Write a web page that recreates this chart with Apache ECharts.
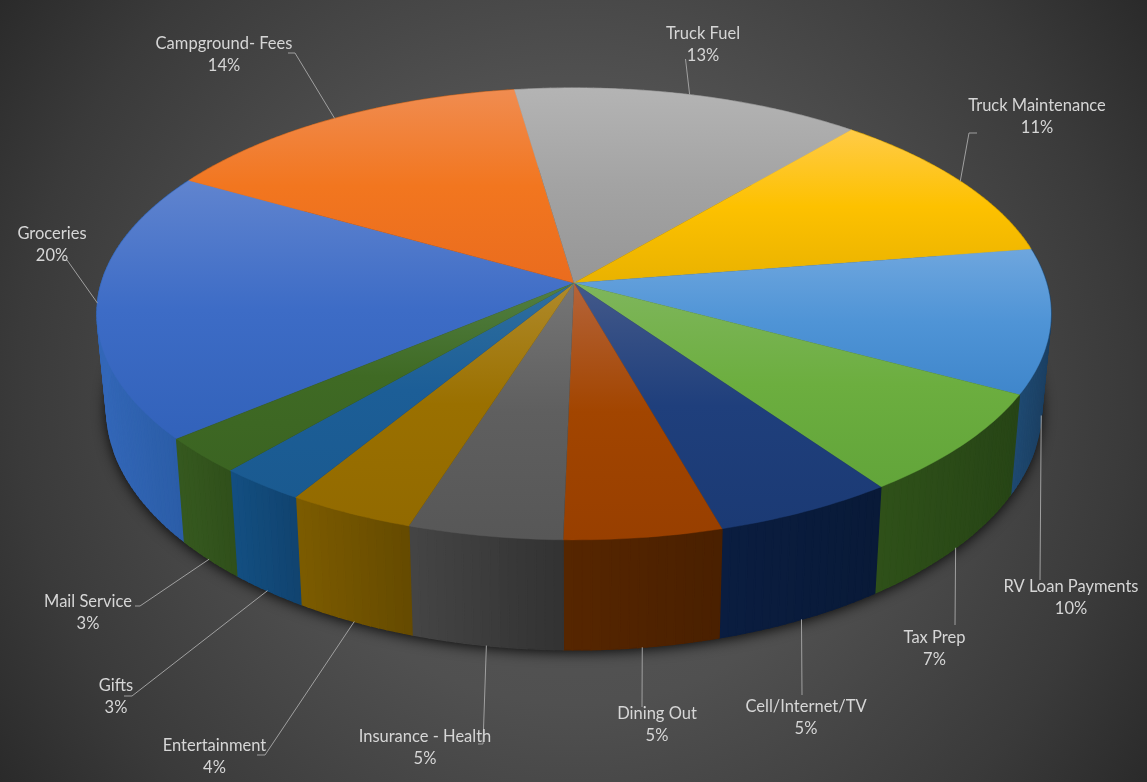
<!DOCTYPE html>
<html><head><meta charset="utf-8">
<style>html,body{margin:0;padding:0;background:#333}#c{width:1147px;height:782px}</style>
<script src="https://cdn.jsdelivr.net/npm/echarts@6/dist/echarts.min.js"></script>
</head><body><div id="c"></div>
<script>
// ---- data
const categories = ['Groceries','Campground- Fees','Truck Fuel','Truck Maintenance','RV Loan Payments','Tax Prep','Cell/Internet/TV','Dining Out','Insurance - Health','Entertainment','Gifts','Mail Service'];
const values = [19.3,14.5,13.5,11.3,10.3,7.4,5.4,4.7,4.6,3.8,2.6,2.6];
const percentLabels = ['20%','14%','13%','11%','10%','7%','5%','5%','5%','4%','3%','3%'];
// ---- styles
const topLight = ['#6084cf','#f08c50','#b4b4b4','#ffcb47','#6ea6de','#7fb65c','#43598a','#b5643a','#767676','#b08a2a','#2f6f9f','#527f42'];
const topMid   = ['#3d6cc6','#f2761f','#a3a3a3','#fdc100','#4f94d6','#6cae3f','#1f3f7c','#a24500','#5f5f5f','#9a7000','#1c5e97','#3f6a24'];
const topDark  = ['#3262ba','#ea6c1e','#969696','#e9b200','#3f86cb','#62a53a','#1b3a74','#983f00','#575757','#926a00','#1a5a90','#3b6422'];
const wallA    = ['#3367b8','#a85a20','#777777','#b08600','#1f4a72','#2f5119','#0a1d40','#572600','#454545','#7d5c00','#134f82','#36591f'];
const wallB    = ['#2a5ca5','#a85a20','#777777','#b08600','#1b3f62','#274516','#091a38','#4a2000','#333333','#664b00','#114470','#30501b'];
const textColor = '#d6d6d6', leaderColor = '#a0a0a0';
// ---- layout: label centres and leader elbows (anchor on the rim comes from the data)
const labelCenters = [[52,245],[224,55],[703,45],[1037,117],[1071,598],[934.5,649],[806,718],[657,725],[425,748],[214.5,757],[116,697],[88,613]];
const leaderElbows = [[[67,260],[62,260]],[[295,53],[288,53]],[[685.5,59]],[[969,133],[977,133]],[[1040,580]],[[955,625]],[[802,695]],[[642,707]],[[483,744],[478,744]],[[265,755],[257,755]],[[132,696],[124,696]],[[140,606],[135,606]]];
const useTopRim = [true,true,true,true,false,false,false,false,false,false,false,false];

// projection of the disc (perspective)
const geo = {cx:574, topY:283, botY:375, a:221.7, b:472.5, k:0.137, botSX:0.98, botSY:1.07, start:230.1};
function proj(deg, bottom){
  const t = deg*Math.PI/180, X = Math.sin(t), Y = -Math.cos(t), d = 1 - geo.k*Y;
  const u = geo.b*X/d, v = geo.a*Y/d;
  return bottom ? [geo.cx + geo.botSX*u, geo.botY + geo.botSY*v] : [geo.cx + u, geo.topY + v];
}
const total = values.reduce((s,v)=>s+v,0);
const angles = []; { let acc = geo.start; values.forEach(v=>{ const n = acc + v/total*360; angles.push([acc,n]); acc = n; }); }
function arc(a0,a1,bottom){ const n = Math.max(2,Math.ceil(a1-a0)), pts=[]; for(let i=0;i<=n;i++) pts.push(proj(a0+(a1-a0)*i/n,bottom)); return pts; }

const chart = echarts.init(document.getElementById('c'));
const seriesData = categories.map((name,i)=>({name, value: values[i]}));
const G = echarts.graphic;
chart.setOption({
  animation:false,
  backgroundColor:{type:'radial',x:0.5,y:0.5,r:0.89,colorStops:[{offset:0,color:'#5a5a5a'},{offset:0.45,color:'#505050'},{offset:0.8,color:'#3a3a3a'},{offset:1,color:'#2a2a2a'}]},
  series:[
    {type:'custom',coordinateSystem:'none',silent:true,z:1,data:[0],
     renderItem(){ return {type:'polygon',shape:{points:arc(0,360,true)},
        style:{fill:'#111',shadowBlur:14,shadowColor:'rgba(0,0,0,0.9)',shadowOffsetY:2}}; }},
    {type:'custom',coordinateSystem:'none',silent:true,z:2,data:seriesData,
     renderItem(p){ const i=p.dataIndex,[a0,a1]=angles[i];
        const t=arc(a0,a1,false), b=arc(a0,a1,true), n=t.length-1, children=[];
        const xs=b.map(q=>q[0]), lo=Math.min(...xs), hi=Math.max(...xs);
        for(let j=0;j<n;j++){ const c=echarts.color.lerp((b[j][0]-lo)/(hi-lo),[wallA[i],wallB[i]]);
          children.push({type:'polygon',shape:{points:[t[j],t[j+1],b[j+1],b[j]]},style:{fill:c,stroke:c,lineWidth:1.4}}); }
        return {type:'group',children}; }},
    {type:'custom',coordinateSystem:'none',silent:true,z:3,data:seriesData,
     renderItem(p){ const i=p.dataIndex,[a0,a1]=angles[i];
        const fill=new G.LinearGradient(0,0,0,1,[{offset:0,color:topLight[i]},{offset:0.5,color:topMid[i]},{offset:1,color:topDark[i]}]);
        return {type:'polygon',shape:{points:[[geo.cx,geo.topY]].concat(arc(a0,a1,false))},style:{fill,stroke:fill,lineWidth:0.4}}; }},
    {type:'custom',coordinateSystem:'none',silent:true,z:4,data:seriesData,
     renderItem(p){ const i=p.dataIndex,[a0,a1]=angles[i],[lx,ly]=labelCenters[i];
        const pts=[proj((a0+a1)/2,!useTopRim[i])].concat(leaderElbows[i]);
        const font='16.5px Lato, "Open Sans", sans-serif';
        return {type:'group',children:[
          {type:'polyline',shape:{points:pts},style:{stroke:leaderColor,lineWidth:1,fill:null}},
          {type:'text',style:{text:categories[i],x:lx,y:ly-11,align:'center',verticalAlign:'middle',font,fill:textColor}},
          {type:'text',style:{text:percentLabels[i],x:lx,y:ly+11,align:'center',verticalAlign:'middle',font,fill:textColor}}
        ]}; }}
  ]
});
</script></body></html>
